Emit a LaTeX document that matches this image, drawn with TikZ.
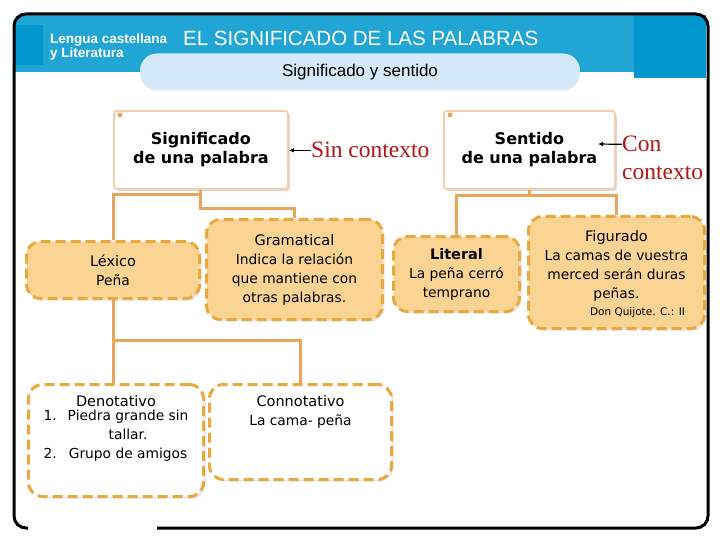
\documentclass[tikz,border=0pt]{standalone}
\usepackage{fontspec}
\setmainfont{DejaVu Sans}
\newfontfamily\arialfont{Liberation Sans}
\newfontfamily\timesfont{Liberation Serif}
\usetikzlibrary{calc,arrows.meta,shadows}

\definecolor{bandblue}{RGB}{32,165,212}
\definecolor{darkblue}{RGB}{0,152,204}
\definecolor{pillblue}{RGB}{212,233,250}
\definecolor{boxfill}{RGB}{251,212,148}
\definecolor{boxline}{RGB}{232,170,64}
\definecolor{connline}{RGB}{232,166,92}
\definecolor{headline}{RGB}{243,206,172}
\definecolor{redtext}{RGB}{178,22,22}

\begin{document}
\begin{tikzpicture}[x=1pt,y=1pt,yscale=-1,
  conector/.style={draw=connline, line width=3},
  rama/.style={draw=boxline, fill=boxfill, line width=3, dash pattern=on 10pt off 5pt,
    rounded corners=14, inner sep=0, anchor=north west,
    drop shadow={opacity=0.18, shadow xshift=2pt, shadow yshift=-2pt}},
  cabecera/.style={draw=headline, fill=white, line width=1.8, rounded corners=3, inner sep=0,
    anchor=north west, align=center, font=\bfseries\fontsize{16}{19}\selectfont,
    drop shadow={opacity=0.3, shadow xshift=2pt, shadow yshift=-2pt}},
  texto/.style={font=\fontsize{13.8}{19}\selectfont, align=center, inner sep=0},
  rojo/.style={text=redtext, font=\timesfont\fontsize{23.5}{28}\selectfont, inner sep=0, anchor=base west},
  flecha/.style={-{Latex[length=5pt,width=4.5pt]}, line width=1.2}]
\useasboundingbox (0,0) rectangle (720,540);

%Shape: Band
\fill[bandblue] (14,72) {[rounded corners=10] -- (14,15) -- (706,15)} -- (706,72) -- cycle;
\fill[darkblue] (634,15) rectangle (706,78);
\fill[darkblue] (15,25) rectangle (43,65);
%Shape: Frame
\draw[line width=3, rounded corners=12] (157,528) -- (708,528) -- (708,14) -- (14,14) -- (14,528) -- (28,528);

%Header texts
\node[anchor=base west, text=white, font=\arialfont\bfseries\fontsize{13.5}{14}\selectfont, inner sep=0] (area) at (50,44) {Lengua castellana};
\node[anchor=base west, text=white, font=\arialfont\bfseries\fontsize{13.5}{14}\selectfont, inner sep=0] (area2) at (50,58) {y Literatura};
\node[anchor=base west, text=white, font=\arialfont\fontsize{20.5}{23}\selectfont, inner sep=0] (titulo) at (183,46) {EL SIGNIFICADO DE LAS PALABRAS};
%Shape: Pill
\node[fill=pillblue, rounded corners=17, minimum width=440, minimum height=37, inner sep=0,
  font=\arialfont\fontsize{17}{18}\selectfont] (tema) at (360,72) {Significado y sentido};

%Head boxes
\node[cabecera, minimum width=174, minimum height=78] (sig) at (113,110) {Significado\\de una palabra};
\node[cabecera, minimum width=171, minimum height=78] (sen) at (443,110) {Sentido\\de una palabra};
\fill[connline] (120,115) circle (2.5);
\fill[connline] (450,115) circle (2.5);

%Context labels
\node[rojo] (sinctx) at (311,158) {Sin contexto};
\node[rojo] (conA) at (622,152) {Con};
\node[rojo] (conB) at (622,180) {contexto};
\coordinate (sentip) at (598,144);
\draw[flecha] (sinctx.west) -- (sinctx.west -| sig.east);
\draw[flecha] (conA.west) -- (sentip);

%Orange boxes
\node[rama, minimum width=173, minimum height=57] (lex) at (25,240) {};
\node[texto] (lextxt) at (lex.center) {{\fontsize{14.5}{19}\selectfont Léxico}\\Peña};
\node[rama, minimum width=176, minimum height=100] (gram) at (205,218) {};
\node[texto] (gramtxt) at (gram.center) {{\fontsize{14.5}{19}\selectfont Gramatical}\\Indica la relación\\que mantiene con\\otras palabras.};
\node[rama, minimum width=126, minimum height=75] (lit) at (392,235) {};
\node[texto] (littxt) at (lit.center) {{\bfseries\fontsize{14.5}{19}\selectfont Literal}\\La peña cerró\\temprano};
\node[rama, minimum width=176, minimum height=112] (fig) at (527,215) {};
\node[texto] (figtxt) at ($(fig.center)+(0,2)$) {{\fontsize{14.5}{19}\selectfont Figurado}\\La camas de vuestra\\merced serán duras\\peñas.\\[-2pt]
  \hspace*{42pt}{\fontsize{10.5}{13}\selectfont Don Quijote. C.: II}};

%Dashed white boxes
\node[rama, fill=white, minimum width=175, minimum height=112] (deno) at (27,383) {};
\node[texto, anchor=north] (denotxt) at ($(deno.north)+(0,12)$) {{\fontsize{14.5}{19}\selectfont Denotativo}\\
  \begin{tabular}{@{}l@{\hspace{11pt}}c@{}}1.&Piedra grande sin\\&tallar.\\2.&Grupo de amigos\end{tabular}};
\node[rama, fill=white, minimum width=182, minimum height=95] (conno) at (208,383) {};
\node[texto, anchor=north] (connotxt) at ($(conno.north)+(0,12)$) {{\fontsize{14.5}{19}\selectfont Connotativo}\\La cama- peña};

%Straight Lines
\draw[conector] (sig.south) -- ++(0,5);
\draw[conector] (lex.north) |- ($(sig.south)+(0,5)$) -- ($(sig.south)+(0,19)$) -| (gram.north);
\draw[conector] (lex.south) -- (lex.south |- deno.north);
\draw[conector] ($(lex.south)+(0,40)$) -| (conno.north);
\draw[conector] (sen.south) -- ++(0,6);
\draw[conector] (lit.north) |- ($(sen.south)+(0,6)$) -| (fig.north);
\end{tikzpicture}
\end{document}
